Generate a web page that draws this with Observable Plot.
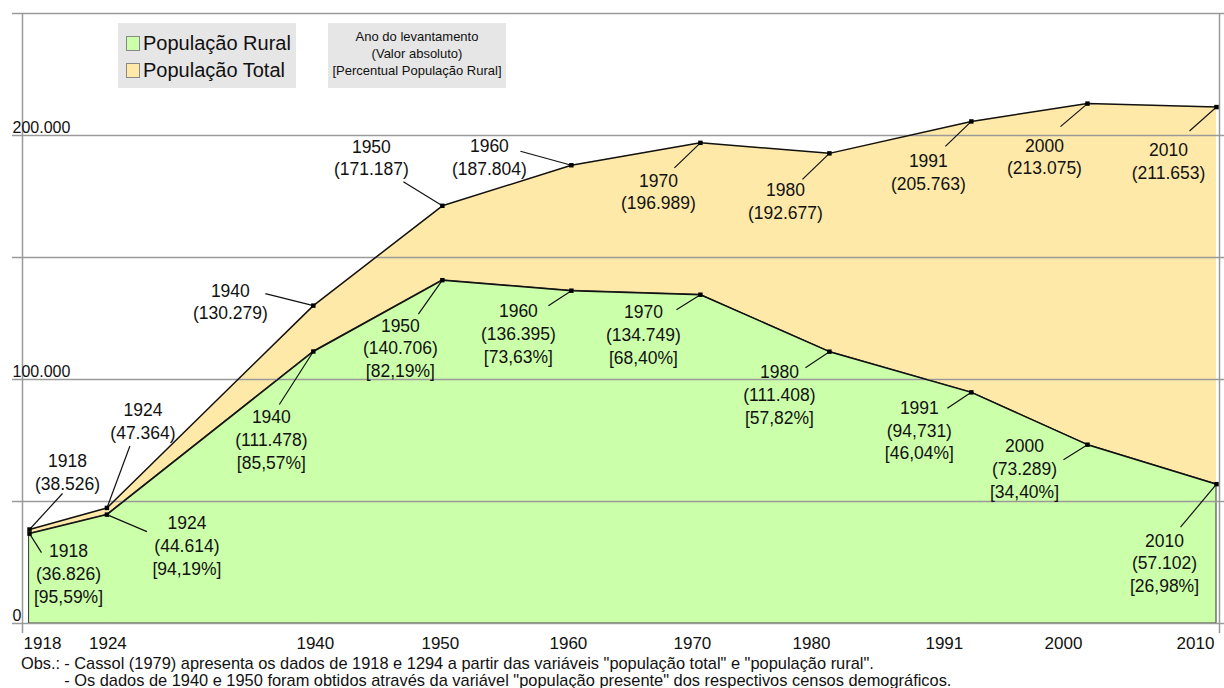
<!DOCTYPE html>
<html><head><meta charset="utf-8">
<script src="https://cdn.jsdelivr.net/npm/d3@7"></script>
<script src="https://cdn.jsdelivr.net/npm/@observablehq/plot@0.6"></script>
<style>
html,body{margin:0;padding:0;background:#fff;}
body{font-family:"Liberation Sans",Arial,sans-serif;color:#111;}
#wrap{position:relative;width:1224px;height:688px;overflow:hidden;}
#chart{position:absolute;left:0;top:0;}
.box{position:absolute;background:#e6e6e6;}
#leg1{left:118px;top:23px;width:178px;height:65px;}
#leg1 .row{position:absolute;left:8px;height:24px;line-height:24px;font-size:20px;white-space:nowrap;}
#leg1 .sw{display:inline-block;width:12px;height:13px;border:1px solid #888;vertical-align:-1px;margin-right:3px;}
#leg2{left:328px;top:23px;width:178px;height:65px;font-size:13px;text-align:center;line-height:17px;padding-top:5px;box-sizing:border-box;}
#note{position:absolute;left:21px;top:655px;font-size:16.4px;line-height:17px;white-space:nowrap;display:grid;grid-template-columns:auto auto;column-gap:4px;}
</style></head><body>
<div id="wrap">
<div id="chart"></div>
<div class="box" id="leg1">
  <div class="row" style="top:8px"><span class="sw" style="background:#ccffaa"></span>População Rural</div>
  <div class="row" style="top:35px"><span class="sw" style="background:#ffe9a8"></span>População Total</div>
</div>
<div class="box" id="leg2">Ano do levantamento<br>(Valor absoluto)<br>[Percentual População Rural]</div>
<div id="note"><div>Obs.:</div><div>- Cassol (1979) apresenta os dados de 1918 e 1294 a partir das variáveis "população total" e "população rural".<br>- Os dados de 1940 e 1950 foram obtidos através da variável "população presente" dos respectivos censos demográficos.</div></div>
</div>
<script>
// ---- data ----
const years = [1918, 1924, 1940, 1950, 1960, 1970, 1980, 1991, 2000, 2010];
const totalPop = [38526, 47364, 130279, 171187, 187804, 196989, 192677, 205763, 213075, 211653];
const ruralPop = [36826, 44614, 111478, 140706, 136395, 134749, 111408, 94731, 73289, 57102];
const totalText = ["38.526", "47.364", "130.279", "171.187", "187.804", "196.989", "192.677", "205.763", "213.075", "211.653"];
const ruralText = ["36.826", "44.614", "111.478", "140.706", "136.395", "134.749", "111.408", "94,731", "73.289", "57.102"];
const ruralPct = ["95,59%", "94,19%", "85,57%", "82,19%", "73,63%", "68,40%", "57,82%", "46,04%", "34,40%", "26,98%"];
const yTicks = [0, 100000, 200000];
const yTickLabels = ["0", "100.000", "200.000"];
const gridValues = [0, 50000, 100000, 150000, 200000, 250000];

// ---- layout (pixel nudges for annotations) ----
const totalLabelOff = [[38,-58],[36,-88],[-83,-5],[-71,-49],[-82,-9],[-42,48],[-44,47],[-43,50],[-43,52],[-48,53]];
const totalLeaderOff = [[33,-36],[23,-62],[-48,-12],[-39,-24],[-51,-14],[-26,25],[-27,26],[-26,25],[-27,23],[-27,24]];
const ruralLabelOff = [[39,39],[80,30],[-42,87],[-42,67],[-53,42],[-57,39],[-50,42],[-52,37],[-63,23],[-52,78]];
const ruralLeaderOff = [[12,19],[40,17],[-34,53],[-24,34],[-23,15],[-24,15],[-24,16],[-24,16],[-24,15],[-36,43]];
const tickNudge = [13, 1, 2, -2, -3, -8, -18, -27, -24, -21];

const xDomain = [1918, 2010], xRange = [29, 1216];
const yDomain = [0, 250000], yRange = [623, 13];
const xs = d3.scaleLinear(xDomain, xRange);
const ys = d3.scaleLinear(yDomain, yRange);
const ox = (v, d) => xs.invert(xs(v) + d);
const oy = (v, d) => ys.invert(ys(v) + d);

const rows = years.map((year, i) => ({
  year, total: totalPop[i], rural: ruralPop[i],
  tLabel: `${year}\n(${totalText[i]})`,
  rLabel: `${year}\n(${ruralText[i]})\n[${ruralPct[i]}]`,
  tlx: ox(year, totalLabelOff[i][0]), tly: oy(totalPop[i], totalLabelOff[i][1]),
  tex: ox(year, totalLeaderOff[i][0]), tey: oy(totalPop[i], totalLeaderOff[i][1]),
  rlx: ox(year, ruralLabelOff[i][0]), rly: oy(ruralPop[i], ruralLabelOff[i][1]),
  rex: ox(year, ruralLeaderOff[i][0]), rey: oy(ruralPop[i], ruralLeaderOff[i][1]),
  tickX: ox(year, tickNudge[i])
}));
const yTickRows = yTicks.map((v, i) => ({v, label: yTickLabels[i]}));

const chart = Plot.plot({
  width: 1224, height: 652,
  marginLeft: 12, marginRight: 0, marginTop: 13, marginBottom: 29,
  x: {domain: xDomain, range: xRange, axis: null},
  y: {domain: yDomain, range: yRange, axis: null},
  style: {fontFamily: "'Liberation Sans', Arial, sans-serif", background: "white", color: "#111", overflow: "visible"},
  marks: [
    Plot.areaY(rows, {x: "year", y: "total", fill: "#ffe9a8"}),
    Plot.areaY(rows, {x: "year", y: "rural", fill: "#ccffaa", stroke: "#333", strokeWidth: 1}),
    Plot.ruleY(gridValues, {stroke: "#9a9a9a", strokeWidth: 1.5}),
    Plot.ruleX([1918], {dx: -7, y1: 250000, y2: oy(0, 10), stroke: "#9a9a9a", strokeWidth: 1.5}),
    Plot.ruleX([2010], {dx: 3, y1: 250000, y2: oy(0, 10), stroke: "#9a9a9a", strokeWidth: 1.5}),
    Plot.lineY(rows, {x: "year", y: "total", stroke: "#111", strokeWidth: 1.5}),
    Plot.lineY(rows, {x: "year", y: "rural", stroke: "#111", strokeWidth: 1.5}),
    Plot.link(rows, {x1: "year", y1: "total", x2: "tex", y2: "tey", stroke: "#111", strokeWidth: 1.2}),
    Plot.link(rows, {x1: "year", y1: "rural", x2: "rex", y2: "rey", stroke: "#111", strokeWidth: 1.2}),
    Plot.dot(rows, {x: "year", y: "total", symbol: "square", r: 2.5, fill: "#000"}),
    Plot.dot(rows, {x: "year", y: "rural", symbol: "square", r: 2.5, fill: "#000"}),
    Plot.text(rows, {x: "tlx", y: "tly", text: "tLabel", fontSize: 17.5, lineHeight: 1.3, lineAnchor: "middle", fill: "#111"}),
    Plot.text(rows, {x: "rlx", y: "rly", text: "rLabel", fontSize: 17.5, lineHeight: 1.3, lineAnchor: "middle", fill: "#111"}),
    Plot.text(yTickRows, {y: "v", text: "label", frameAnchor: "left", textAnchor: "start", lineAnchor: "bottom", dy: -3, fontSize: 16, fill: "#111"}),
    Plot.text(rows, {x: "tickX", text: d => String(d.year), frameAnchor: "bottom", lineAnchor: "middle", dy: 20, fontSize: 17, fill: "#111"})
  ]
});
document.getElementById("chart").appendChild(chart);
</script>
</body></html>
